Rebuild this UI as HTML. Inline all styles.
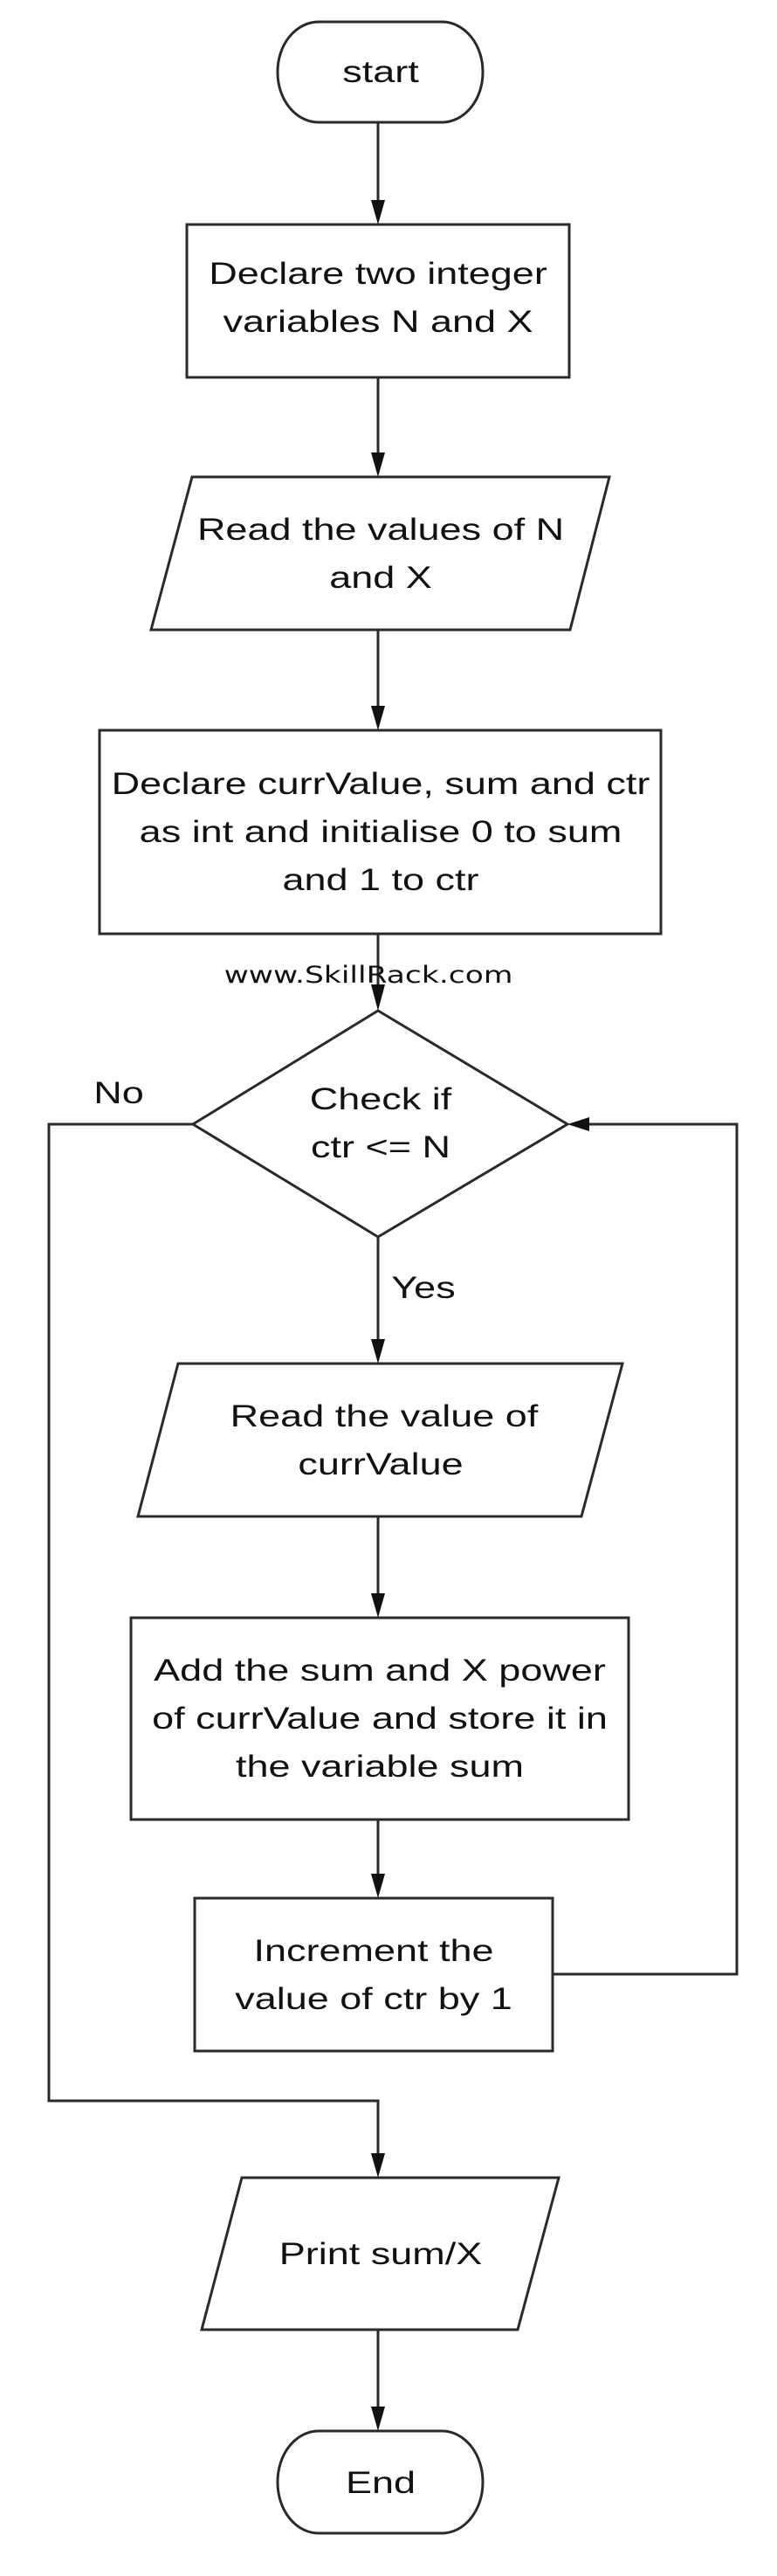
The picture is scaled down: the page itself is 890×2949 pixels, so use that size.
<!DOCTYPE html>
<html><head><meta charset="utf-8"><style>
html,body{margin:0;padding:0;background:#fff;}
svg{display:block;}
text{font-family:"Liberation Sans",Arial,sans-serif;font-size:45px;fill:#111;text-anchor:middle;}
.w{font-family:"DejaVu Sans",sans-serif;font-size:34.5px;}
</style></head><body>
<svg width="890" height="2949" viewBox="0 0 890 2949" xmlns="http://www.w3.org/2000/svg">
<g fill="#fff" stroke="#2a2a2a" stroke-width="3">
<rect x="318" y="25" width="235" height="115" rx="47" ry="57"/>
<rect x="214" y="257" width="438" height="175"/>
<polygon points="220,546 698,546 653,721 173,721"/>
<rect x="114" y="836" width="643" height="233"/>
<polygon points="433,1157 650,1287 433,1416 221,1287"/>
<polygon points="204,1561 713,1561 666,1736 158,1736"/>
<rect x="150" y="1852" width="570" height="231"/>
<rect x="223" y="2173" width="410" height="175"/>
<polygon points="277,2493 640,2493 593,2667 231,2667"/>
<rect x="318" y="2783" width="235" height="117" rx="47" ry="58"/>
</g>
<g fill="none" stroke="#2a2a2a" stroke-width="3">
<line x1="433" y1="140" x2="433" y2="232"/>
<line x1="433" y1="432" x2="433" y2="521"/>
<line x1="433" y1="721" x2="433" y2="811"/>
<line x1="433" y1="1069" x2="433" y2="1132"/>
<line x1="433" y1="1416" x2="433" y2="1536"/>
<line x1="433" y1="1736" x2="433" y2="1827"/>
<line x1="433" y1="2083" x2="433" y2="2148"/>
<line x1="433" y1="2667" x2="433" y2="2758"/>
<polyline points="221,1287 56,1287 56,2405 433,2405 433,2468"/>
<polyline points="633,2260 844,2260 844,1287 672,1287"/>
</g>
<g fill="#111">
<polygon points="425,229 441,229 433,257"/>
<polygon points="425,518 441,518 433,546"/>
<polygon points="425,808 441,808 433,836"/>
<polygon points="425,1127 441,1127 433,1157"/>
<polygon points="425,1533 441,1533 433,1561"/>
<polygon points="425,1824 441,1824 433,1852"/>
<polygon points="425,2145 441,2145 433,2173"/>
<polygon points="425,2465 441,2465 433,2493"/>
<polygon points="425,2755 441,2755 433,2783"/>
<polygon points="675,1279 675,1295 650,1287"/>
</g>
<text transform="translate(436,94) scale(1,0.78)">start</text>
<text transform="translate(433,325) scale(1,0.78)">Declare two integer</text>
<text transform="translate(433,380) scale(1,0.78)">variables N and X</text>
<text transform="translate(436,618) scale(1,0.78)">Read the values of N</text>
<text transform="translate(436,673) scale(1,0.78)">and X</text>
<text transform="translate(436,909) scale(1,0.78)">Declare currValue, sum and ctr</text>
<text transform="translate(436,964) scale(1,0.78)">as int and initialise 0 to sum</text>
<text transform="translate(436,1019) scale(1,0.78)">and 1 to ctr</text>
<text class="w" transform="translate(422,1125) scale(1,0.78)">www.SkillRack.com</text>
<text transform="translate(436,1270) scale(1,0.78)">Check if</text>
<text transform="translate(436,1325) scale(1,0.78)">ctr &lt;= N</text>
<text transform="translate(136,1263) scale(1,0.78)">No</text>
<text transform="translate(485,1486) scale(1,0.78)">Yes</text>
<text transform="translate(440,1633) scale(1,0.78)">Read the value of</text>
<text transform="translate(436,1688) scale(1,0.78)">currValue</text>
<text transform="translate(435,1924) scale(1,0.78)">Add the sum and X power</text>
<text transform="translate(435,1979) scale(1,0.78)">of currValue and store it in</text>
<text transform="translate(435,2034) scale(1,0.78)">the variable sum</text>
<text transform="translate(428,2245) scale(1,0.78)">Increment the</text>
<text transform="translate(428,2300) scale(1,0.78)">value of ctr by 1</text>
<text transform="translate(436,2592) scale(1,0.78)">Print sum/X</text>
<text transform="translate(436,2854) scale(1,0.78)">End</text>
</svg>
</body></html>
